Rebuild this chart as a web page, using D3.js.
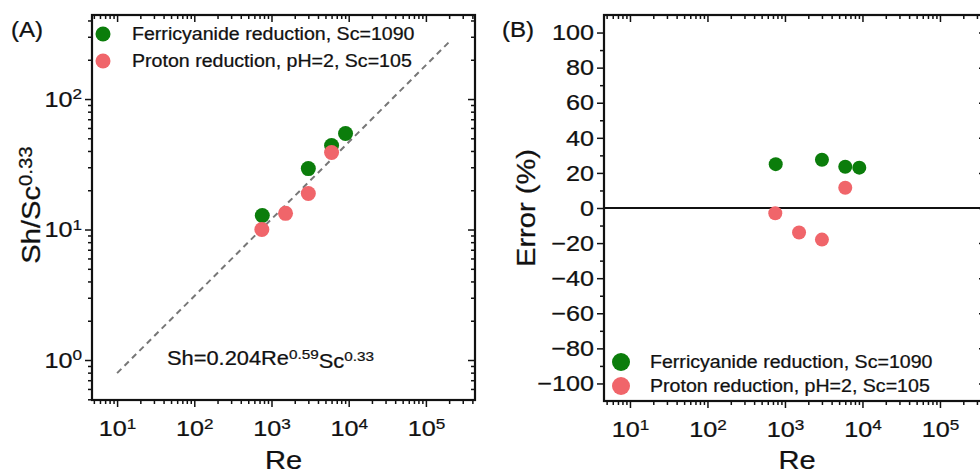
<!DOCTYPE html>
<html><head><meta charset="utf-8">
<script src="https://cdn.jsdelivr.net/npm/d3@7"></script>
<style>body{margin:0;background:#fff;} svg{display:block;font-family:"Liberation Sans",Arial,sans-serif;}</style>
</head><body><svg id="c" width="980" height="476"></svg>
<script>
// ---- data ----
const reFerri   = [760, 3000, 6000, 9100];
const shFerri   = [12.8, 29.3, 44, 54.5];
const reProton  = [750, 1520, 3000, 6000];
const shProton  = [10, 13.3, 18.9, 38.9];
const errFerri  = [25, 27.5, 23.5, 23];
const errProton = [-3, -14, -18, 11.5];
const fitRe = [10, 2.0e5];
const fitCoef = 0.204, fitExp = 0.59;
const xMajorExps = [1, 2, 3, 4, 5];
const yMajorExpsA = [0, 1, 2];
const yTicksB = [-100, -80, -60, -40, -20, 0, 20, 40, 60, 80, 100];
const yMinorB = [-90, -70, -50, -30, -10, 10, 30, 50, 70, 90];
const seriesNames = ["Ferricyanide reduction, Sc=1090", "Proton reduction, pH=2, Sc=105"];
const colors = ["#0b7d0b", "#f0656a"];

const SX = 1.12; // horizontal text stretch
const ink = "#111";
const svg = d3.select("#c");

function logMinors(lo, hi) {
  const out = [];
  for (let e = -2; e <= 6; e++) for (let k = 2; k <= 9; k++) {
    const v = k * Math.pow(10, e);
    if (v > lo && v < hi) out.push(v);
  }
  return out;
}

function stretchText(sel) {
  sel.each(function () {
    const t = d3.select(this);
    const x = +t.attr("x") || 0;
    t.attr("x", 0).attr("transform", `translate(${x},0) scale(${SX},1)`);
  });
}

function supLabel(text, base, sup) {
  text.text(null);
  text.append("tspan").text(base);
  text.append("tspan").attr("dy", "-0.48em").attr("font-size", "0.68em").text(sup);
}

function frame(g, xs, ys, box, xMaj, xMin, yMaj, yMin, xFmt, yFmt) {
  const style = a => {
    a.select(".domain").remove();
    a.selectAll(".tick line").attr("stroke", ink).attr("stroke-width", 1.5);
    a.selectAll(".tick text").attr("fill", ink).attr("font-size", 22.5).attr("font-family", null)
      .attr("stroke", ink).attr("stroke-width", 0.25);
  };
  // bottom
  const b = g.append("g").attr("transform", `translate(0,${box.b})`);
  b.append("g").call(d3.axisBottom(xs).tickValues(xMin).tickSize(4).tickFormat("")).call(style);
  const bm = b.append("g").call(d3.axisBottom(xs).tickValues(xMaj).tickSize(7).tickPadding(13).tickFormat(d => "")).call(style);
  bm.selectAll(".tick text").each(function (d) { supLabel(d3.select(this), "10", Math.round(Math.log10(d))); });
  stretchText(bm.selectAll(".tick text"));
  // top
  const t = g.append("g").attr("transform", `translate(0,${box.t})`);
  t.append("g").call(d3.axisTop(xs).tickValues(xMin).tickSize(-4).tickFormat("")).call(style);
  t.append("g").call(d3.axisTop(xs).tickValues(xMaj).tickSize(-7).tickFormat("")).call(style);
  // left
  const l = g.append("g").attr("transform", `translate(${box.l},0)`);
  l.append("g").call(d3.axisLeft(ys).tickValues(yMin).tickSize(4).tickFormat("")).call(style);
  const lm = l.append("g").call(d3.axisLeft(ys).tickValues(yMaj).tickSize(7).tickPadding(3).tickFormat(d => yFmt ? "" : d3.format("")(d).replace("-", "\u2212"))).call(style);
  if (yFmt) lm.selectAll(".tick text").each(function (d) { supLabel(d3.select(this), "10", Math.round(Math.log10(d))); });
  stretchText(lm.selectAll(".tick text"));
  // right
  const r = g.append("g").attr("transform", `translate(${box.r},0)`);
  r.append("g").call(d3.axisRight(ys).tickValues(yMin).tickSize(-4).tickFormat("")).call(style);
  r.append("g").call(d3.axisRight(ys).tickValues(yMaj).tickSize(-7).tickFormat("")).call(style);
  g.append("rect").attr("x", box.l).attr("y", box.t).attr("width", box.r - box.l).attr("height", box.b - box.t)
    .attr("fill", "none").attr("stroke", ink).attr("stroke-width", 2.2);
}

function sText(g, x, y, size, anchor, rot) {
  return g.append("text").attr("transform", `translate(${x},${y})${rot ? " rotate(" + rot + ")" : ""} scale(${SX},1)`)
    .attr("font-size", size).attr("text-anchor", anchor).attr("fill", ink)
    .attr("stroke", ink).attr("stroke-width", 0.25);
}

function legend(g, x, ys, r, tx) {
  seriesNames.forEach((n, i) => {
    g.append("circle").attr("cx", x).attr("cy", ys[i]).attr("r", r).attr("fill", colors[i]);
    sText(g, tx, ys[i] + 6, 17.5, "start").text(n);
  });
}

// ================= Panel A =================
const boxA = {l: 92, r: 475, t: 15, b: 400};
const xA = d3.scaleLog().domain([Math.pow(10, 0.675), Math.pow(10, 5.636)]).range([boxA.l, boxA.r]);
const yA = d3.scaleLog().domain([Math.pow(10, -0.3065), Math.pow(10, 2.644)]).range([boxA.b, boxA.t]);
const gA = svg.append("g");
const xMaj = xMajorExps.map(e => Math.pow(10, e));
frame(gA, xA, yA, boxA, xMaj, logMinors(xA.domain()[0], xA.domain()[1]),
  yMajorExpsA.map(e => Math.pow(10, e)), logMinors(yA.domain()[0], yA.domain()[1]), true, true);

const fitPts = fitRe.map(re => [re, fitCoef * Math.pow(re, fitExp)]);
gA.append("path").attr("d", d3.line().x(d => xA(d[0])).y(d => yA(d[1]))(fitPts))
  .attr("fill", "none").attr("stroke", "#777").attr("stroke-width", 2).attr("stroke-dasharray", "6,4.5");

gA.selectAll(".pf").data(reFerri.map((r, i) => [r, shFerri[i]])).join("circle")
  .attr("cx", d => xA(d[0])).attr("cy", d => yA(d[1])).attr("r", 7.5).attr("fill", colors[0]);
gA.selectAll(".pp").data(reProton.map((r, i) => [r, shProton[i]])).join("circle")
  .attr("cx", d => xA(d[0])).attr("cy", d => yA(d[1])).attr("r", 7.5).attr("fill", colors[1]);

legend(gA, 103, [34, 61], 7.5, 132);

const eq = sText(gA, 167, 365, 19.5, "start");
eq.append("tspan").text("Sh=0.204Re");
eq.append("tspan").attr("dy", "-0.45em").attr("font-size", "0.7em").text("0.59");
eq.append("tspan").attr("dy", "0.45em").text("Sc");
eq.append("tspan").attr("dy", "-0.45em").attr("font-size", "0.7em").text("0.33");

sText(gA, (boxA.l + boxA.r) / 2, 469, 26, "middle").text("Re");
const yla = sText(gA, 40, 205, 26, "middle", -90);
yla.append("tspan").text("Sh/Sc");
yla.append("tspan").attr("dy", "-0.45em").attr("font-size", "0.7em").text("0.33");
sText(gA, 11, 37, 21.5, "start").text("(A)");

// ================= Panel B =================
const boxB = {l: 604, r: 986, t: 15, b: 401};
const xB = d3.scaleLog().domain([Math.pow(10, 0.665), Math.pow(10, 5.594)]).range([boxB.l, boxB.r]);
const yB = d3.scaleLinear().domain([-110, 110]).range([boxB.b, boxB.t]);
const gB = svg.append("g");
frame(gB, xB, yB, boxB, xMaj, logMinors(xB.domain()[0], xB.domain()[1]), yTicksB, yMinorB, true, false);

gB.append("line").attr("x1", boxB.l).attr("x2", boxB.r).attr("y1", yB(0)).attr("y2", yB(0))
  .attr("stroke", ink).attr("stroke-width", 1.8);

gB.selectAll(".ef").data(reFerri.map((r, i) => [r, errFerri[i]])).join("circle")
  .attr("cx", d => xB(d[0])).attr("cy", d => yB(d[1])).attr("r", 7).attr("fill", colors[0]);
gB.selectAll(".ep").data(reProton.map((r, i) => [r, errProton[i]])).join("circle")
  .attr("cx", d => xB(d[0])).attr("cy", d => yB(d[1])).attr("r", 7).attr("fill", colors[1]);

legend(gB, 621, [362, 386], 9, 650);

sText(gB, 797, 469, 26, "middle").text("Re");
sText(gB, 535, 208, 26, "middle", -90).text("Error (%)");
sText(gB, 502, 37, 21.5, "start").text("(B)");
</script></body></html>
